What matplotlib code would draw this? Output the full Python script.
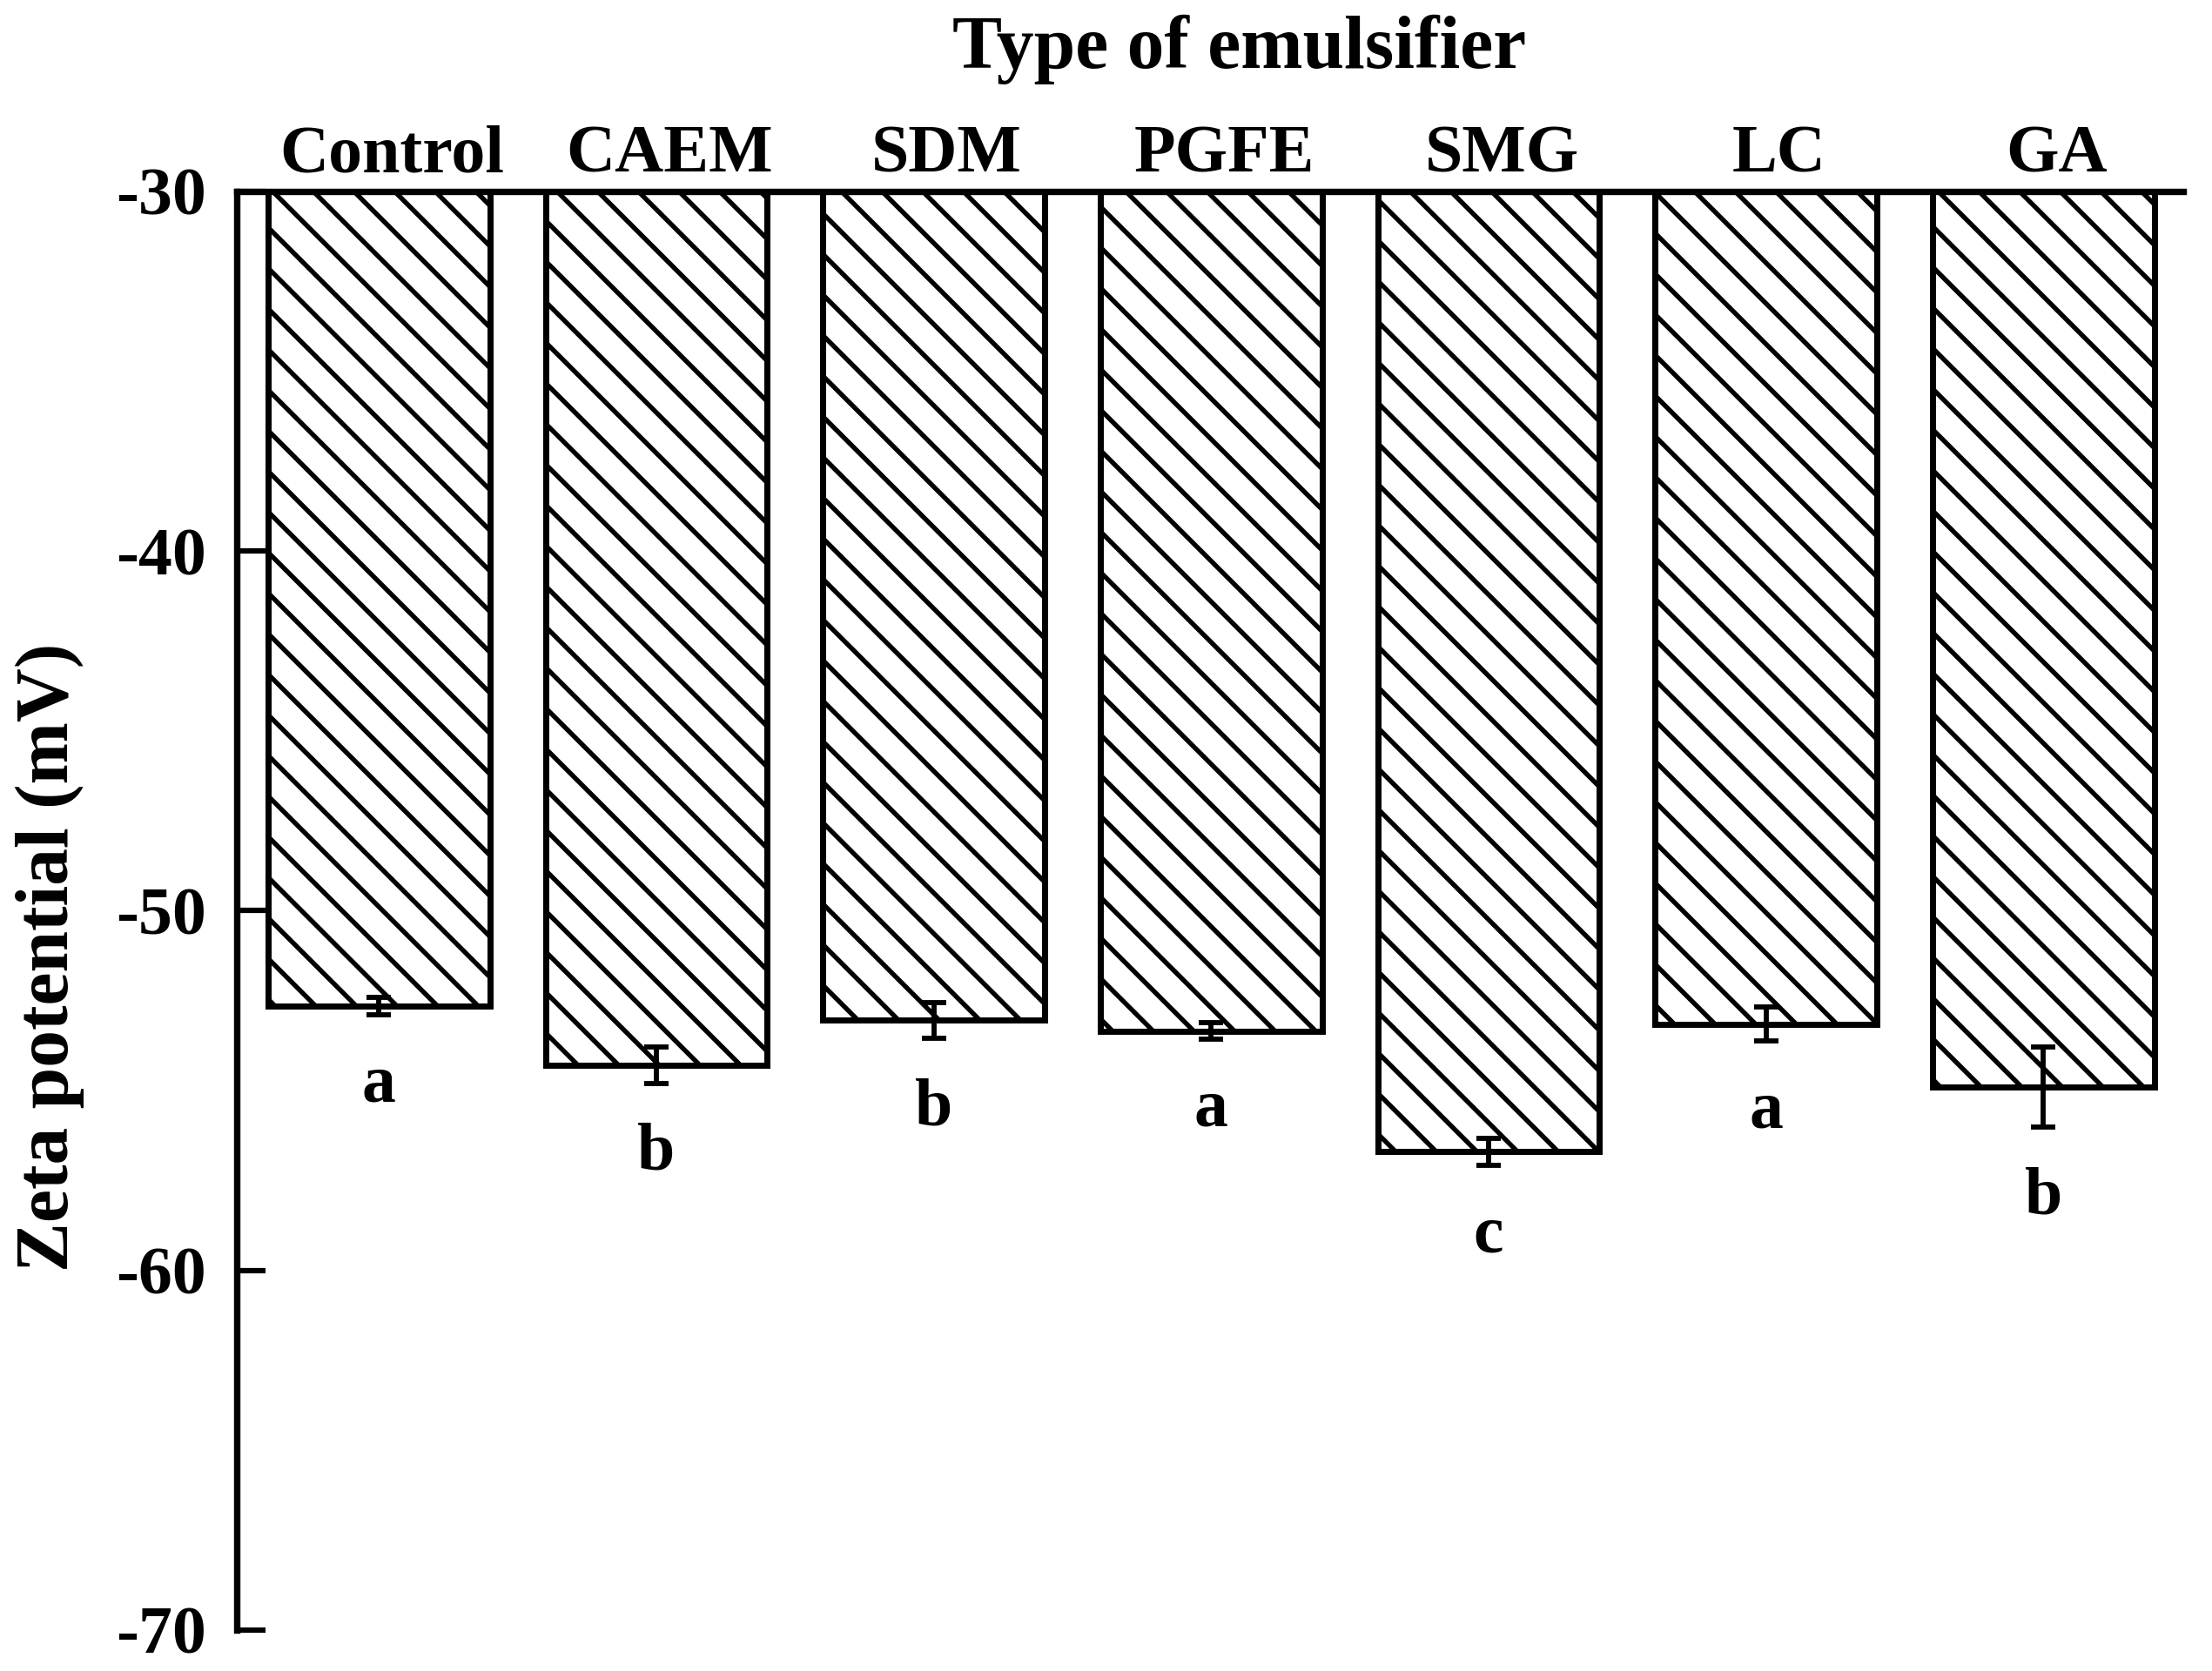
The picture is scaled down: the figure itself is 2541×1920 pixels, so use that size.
import matplotlib
matplotlib.use("Agg")
import matplotlib.pyplot as plt
import matplotlib.transforms as mtransforms
import numpy as np

plt.rcParams["font.family"] = ["Liberation Serif", "DejaVu Serif"]
plt.rcParams["font.weight"] = "bold"
plt.rcParams["hatch.linewidth"] = 1.4

emulsifiers = ["Control", "CAEM", "SDM", "PGFE", "SMG", "LC", "GA"]
zeta = [-52.65, -54.3, -53.05, -53.35, -56.7, -53.15, -54.9]
zeta_err = [0.25, 0.5, 0.5, 0.23, 0.38, 0.48, 1.12]
letters = ["a", "b", "b", "a", "c", "a", "b"]
y_ticks = [-30, -40, -50, -60, -70]

DPI = 280
fig = plt.figure(figsize=(2541 / DPI, 1920 / DPI), dpi=DPI)
ax = fig.add_axes([0.107, 0.0245, 0.880, 0.861])

x = np.arange(len(emulsifiers))
base = -30
heights = [v - base for v in zeta]
ax.bar(x, heights, bottom=base, width=0.8, color="white", edgecolor="black",
       linewidth=1.8, hatch="\\\\", zorder=2)
ax.errorbar(x, zeta, yerr=zeta_err, fmt="none", ecolor="black", elinewidth=1.5,
            capsize=3.5, capthick=1.5, zorder=3)

for xi, v, e, lab in zip(x, zeta, zeta_err, letters):
    ax.text(xi, v - e - 1.95, lab, ha="center", va="center", fontsize=20,
            fontweight="bold")

ax.set_xlim(-0.513, 6.504)
ax.set_ylim(-70, -30)
ax.set_yticks(y_ticks)
ax.set_yticklabels([str(t) for t in y_ticks], fontsize=20, fontweight="bold")
ax.tick_params(axis="y", direction="in", length=8.5, width=1.6, pad=9)

ax.xaxis.tick_top()
ax.set_xticks(x)
ax.set_xticklabels(emulsifiers, fontsize=20, fontweight="bold")
ax.tick_params(axis="x", length=0, pad=1.5)
shift = mtransforms.ScaledTranslation(15 / DPI, 0, fig.dpi_scale_trans)
for lbl in ax.get_xticklabels():
    lbl.set_transform(lbl.get_transform() + shift)

for side in ["right", "bottom"]:
    ax.spines[side].set_visible(False)
for side in ["left", "top"]:
    ax.spines[side].set_linewidth(1.9)

fig.text(1424 / 2541, 1 - 57 / 1920, "Type of emulsifier", ha="center",
         va="center", fontsize=22, fontweight="bold")
fig.text(57 / 2541, 1 - 1100 / 1920, "Zeta potential (mV)", ha="center",
         va="center", rotation=90, fontsize=22, fontweight="bold")

fig.savefig("out.png", dpi=DPI)
